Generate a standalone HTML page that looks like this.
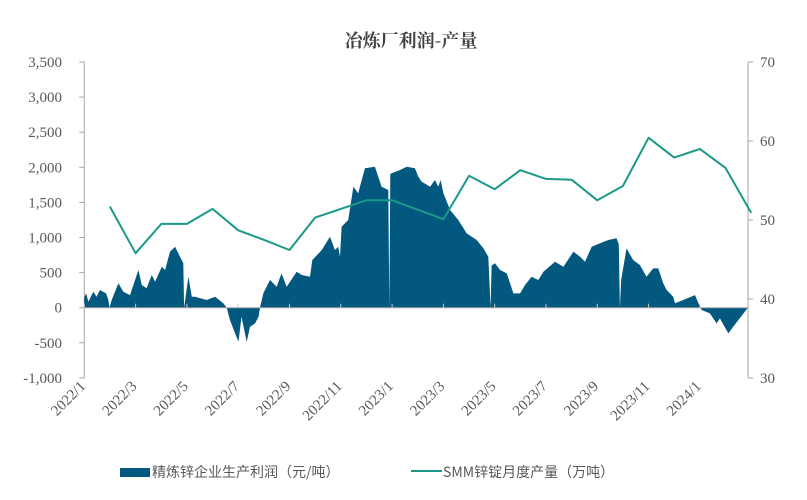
<!DOCTYPE html>
<html><head><meta charset="utf-8"><style>
body{margin:0;background:#fff;}
svg{display:block;font-family:"Liberation Serif","Noto Serif CJK SC",serif;}
</style></head><body>
<svg id="chart" width="807" height="500" viewBox="0 0 807 500" xmlns="http://www.w3.org/2000/svg">
<rect width="807" height="500" fill="#fff"/>
<text x="411" y="47" text-anchor="middle" font-size="18" font-weight="bold" fill="#404040" font-family="'Noto Serif CJK SC','Noto Sans CJK SC',serif">冶炼厂利润-产量</text>
<g id="axes"></g>
<g id="area"></g>
<g id="line"></g>
<g>
<rect x="120" y="468" width="30" height="9" fill="#03587f"/>
<text x="152" y="477" font-size="14" fill="#595959" font-family="'Noto Sans CJK SC',sans-serif">精炼锌企业生产利润（元/吨）</text>
<line x1="411" y1="471" x2="442" y2="471" stroke="#1a9987" stroke-width="2"/>
<text x="443" y="477" font-size="14" fill="#595959" font-family="'Noto Sans CJK SC',sans-serif">SMM锌锭月度产量（万吨）</text>
</g>
</svg>
<script>
const leftTicks=[-1000,-500,0,500,1000,1500,2000,2500,3000,3500];
const rightTicks=[30,40,50,60,70];
const xLabels=["2022/1","2022/3","2022/5","2022/7","2022/9","2022/11","2023/1","2023/3","2023/5","2023/7","2023/9","2023/11","2024/1"];
const outputMonths=[1,2,3,4,5,6,7,8,9,10,11,12,13,14,15,16,17,18,19,20,21,22,23,24,25,26];
const outputValues=[51.7,45.8,49.5,49.5,51.4,48.7,47.5,46.2,50.3,51.4,52.5,52.5,51.3,50.1,55.6,53.9,56.3,55.2,55.1,52.5,54.3,60.4,57.9,59.0,56.6,50.9];
const profitMonths=[0,0.07,0.16,0.35,0.48,0.61,0.85,0.94,0.98,1.07,1.33,1.52,1.78,1.89,2.11,2.24,2.43,2.63,2.76,3.02,3.15,3.34,3.54,3.73,3.86,3.89,4.06,4.19,4.32,4.77,5.10,5.42,5.55,5.68,5.88,6.01,6.13,6.33,6.46,6.66,6.79,6.85,6.98,7.24,7.50,7.69,7.89,8.28,8.48,8.80,8.89,9.26,9.58,9.77,9.90,9.97,10.03,10.29,10.49,10.68,10.94,11.33,11.59,11.85,11.89,11.93,11.98,12.31,12.57,12.89,13.02,13.15,13.48,13.67,13.80,13.89,14.00,14.26,14.58,14.91,15.30,15.56,15.75,15.84,15.88,16.01,16.21,16.47,16.73,16.99,17.18,17.44,17.70,17.90,18.35,18.68,19.07,19.33,19.52,19.78,20.11,20.43,20.75,20.84,20.88,20.93,21.14,21.40,21.66,21.92,22.18,22.38,22.57,22.70,22.96,23.03,23.35,23.81,23.94,24.07,24.39,24.65,24.78,25.11,25.30,25.82,25.87];
const profitValues=[150,204,86,228,157,252,204,109,0,109,347,228,180,299,537,323,276,466,371,584,537,798,869,727,632,0,440,157,157,109,157,62,0,-176,-366,-485,-128,-485,-271,-223,-128,0,204,394,299,489,299,513,466,442,679,822,1012,822,869,727,1154,1249,1724,1629,1986,2009,1724,1677,0,1900,1914,1962,2009,1986,1867,1796,1724,1819,1724,1819,1629,1392,1249,1059,964,845,727,0,600,632,537,489,204,204,323,442,394,513,655,584,798,727,655,869,917,964,988,900,0,400,845,679,608,442,560,560,347,252,157,62,109,180,62,-33,-81,-223,-152,-366,-271,-24,0];

const NS="http://www.w3.org/2000/svg";
const X0=84.3, PX_PER_MONTH=25.65, XR=748;
const xScale=m=>X0+m*PX_PER_MONTH;
const yL=v=>307.7-v*0.0702;
const yR=v=>378-(v-30)*7.9;
function mk(tag,attrs,parent){const e=document.createElementNS(NS,tag);for(const k in attrs)e.setAttribute(k,attrs[k]);parent.appendChild(e);return e;}
const axes=document.getElementById('axes');
let e;
e=mk('line',{x1:X0,y1:yL(3500),x2:X0,y2:yL(-1000),stroke:'#a6a6a6','stroke-width':1},axes);


e=mk('line',{x1:XR,y1:yR(70),x2:XR,y2:yR(30),stroke:'#a6a6a6','stroke-width':1},axes);


leftTicks.forEach(v=>{
  mk('line',{x1:X0-5,y1:yL(v),x2:X0,y2:yL(v),stroke:'#a6a6a6'},axes);
  const t=mk('text',{x:62,y:yL(v)+5,'text-anchor':'end','font-size':15,fill:'#595959'},axes);
  t.textContent=v.toLocaleString('en-US');
  
  
});
rightTicks.forEach(v=>{
  mk('line',{x1:XR,y1:yR(v),x2:XR+5,y2:yR(v),stroke:'#a6a6a6'},axes);
  const t=mk('text',{x:760,y:yR(v)+5,'font-size':15,fill:'#595959'},axes);
  t.textContent=v;
  
  
});
// area
const area=document.getElementById('area');
let d='M'+xScale(profitMonths[0])+','+yL(0);
profitMonths.forEach((m,i)=>{d+=' L'+xScale(m).toFixed(1)+','+yL(profitValues[i]).toFixed(1);});
d+=' L'+xScale(profitMonths[profitMonths.length-1])+','+yL(0)+' Z';
e=mk('path',{d:d,fill:'#03587f',stroke:'none'},area);


e=mk('line',{x1:X0,y1:yL(0),x2:XR,y2:yL(0),stroke:'#a6a6a6','stroke-width':1},axes.parentNode);


xLabels.forEach((lab,i)=>{
  const x=xScale(i*2);
  mk('line',{x1:x,y1:yL(0)-4,x2:x,y2:yL(0),stroke:'#c8c8c8'},axes.parentNode);
  const t=mk('text',{x:x+2,y:387,'text-anchor':'end','font-size':15,fill:'#595959',transform:'rotate(-45 '+(x+2)+' 387)'},axes);
  t.textContent=lab;
  
  
});
// line
const line=document.getElementById('line');
const pts=outputMonths.map((m,i)=>xScale(m).toFixed(1)+','+yR(outputValues[i]).toFixed(1)).join(' ');
e=mk('polyline',{points:pts,fill:'none',stroke:'#1a9987','stroke-width':2,'stroke-linejoin':'round'},line);


</script>
</body></html>
